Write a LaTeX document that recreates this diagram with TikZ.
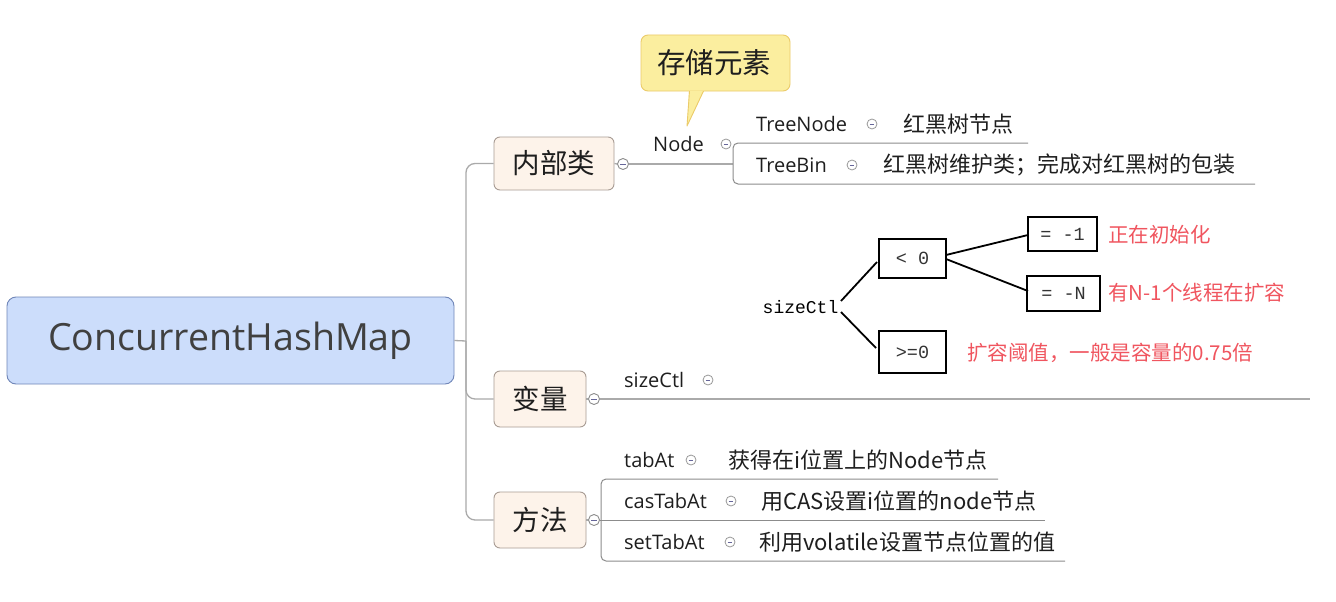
\documentclass[tikz,border=0pt]{standalone}
\usepackage{fontspec}
\setmainfont{Open Sans}
\newfontfamily\cjk{Noto Sans CJK SC}
\setmonofont{Liberation Mono}
\definecolor{rootfill}{RGB}{204,221,251}
\definecolor{rootline}{RGB}{112,134,184}
\definecolor{subfill}{RGB}{253,243,234}
\definecolor{subline}{RGB}{168,156,148}
\definecolor{callfill}{RGB}{251,238,159}
\definecolor{callline}{RGB}{235,203,106}
\definecolor{brline}{RGB}{170,170,170}
\definecolor{bkline}{RGB}{140,140,140}
\definecolor{txt}{RGB}{30,30,30}
\definecolor{roottxt}{RGB}{64,64,64}
\definecolor{redtxt}{RGB}{240,85,95}
\tikzset{
  rootbox/.style={draw=rootline, fill=rootfill, rounded corners=9pt, line width=0.9pt,
    text=roottxt, font=\fontsize{37.5}{40}\selectfont, inner sep=0pt},
  subbox/.style={draw=subline, fill=subfill, rounded corners=6pt, line width=0.9pt,
    text=txt, font=\cjk\fontsize{27.5}{30}\selectfont, inner sep=0pt},
  branch/.style={draw=brline, line width=1.3pt},
  bracket/.style={draw=bkline, line width=1pt, rounded corners=5pt},
  coll/.style={circle, draw=gray!90, fill=white, line width=0.9pt, minimum size=11pt, inner sep=0pt,
    path picture={\draw[gray!80!blue, line width=0.9pt] ([xshift=-2.6pt]path picture bounding box.center) -- ([xshift=2.6pt]path picture bounding box.center);}},
  mini/.style={circle, draw=gray!80, fill=white, line width=0.8pt, minimum size=10pt, inner sep=0pt,
    path picture={\draw[gray!80!blue, line width=0.8pt] ([xshift=-2.3pt]path picture bounding box.center) -- ([xshift=2.3pt]path picture bounding box.center);}},
  lbl/.style={anchor=west, inner sep=0pt, text=txt, font=\fontsize{20}{22}\selectfont},
  clbl/.style={anchor=west, inner sep=0pt, text=txt, font=\cjk\fontsize{22}{24}\selectfont},
  callout/.style={draw=callline, fill=callfill, line width=0.9pt, rounded corners=7pt},
  monobox/.style={draw=black, line width=1.8pt, inner sep=0pt, text=black!80, font=\ttfamily\fontsize{18.5}{20}\selectfont},
  monotxt/.style={inner sep=0pt, text=black, font=\ttfamily\fontsize{18}{20}\selectfont},
  redlbl/.style={anchor=west, inner sep=0pt, text=redtxt, font=\cjk\fontsize{20.5}{24}\selectfont},
  tline/.style={draw=black, line width=1.8pt}
}
\begin{document}
\begin{tikzpicture}[x=1pt,y=-1pt]
\useasboundingbox[fill=white] (0,0) rectangle (1336,602);

% root and subtopics
\node[rootbox, minimum width=447pt, minimum height=87pt] (root) at (230.5,340.5) {ConcurrentHashMap};
\node[subbox, minimum width=120pt, minimum height=53pt] (nb) at (554,163.5) {内部类};
\node[subbox, minimum width=92pt, minimum height=56pt] (bl) at (540,399) {变量};
\node[subbox, minimum width=92pt, minimum height=56pt] (ff) at (540,520) {方法};

\coordinate (tj) at (466,341);
\draw[branch] (root.east) -- (tj);
\draw[branch, rounded corners=9pt] (nb.west) -| (tj);
\draw[branch, rounded corners=9pt] (bl.west) -| (tj);
\draw[branch, rounded corners=9pt] (ff.west) -| (tj);

% collapse circles
\node[coll] (c1) at (623,164) {};
\node[coll] (c2) at (594,399) {};
\node[coll] (c3) at (594,520) {};
\draw[branch] (nb.east) -- (c1.west);
\draw[branch] (bl.east) -- (c2.west);
\draw[branch] (ff.east) -- (c3.west);

% inner class branch
\coordinate (nj) at (733,164);
\draw[branch] (c1.east) -- (nj);
\node[lbl] (node) at (653,144) {Node};
\node[mini] (m0) at (726,144) {};
\coordinate (bt1) at (1028,143);
\coordinate (bt2) at (1255,184);
\draw[bracket] (bt1) -- (733,143) -- (733,184) -- (bt2);
\node[lbl] (tn) at (756,124) {TreeNode};
\node[mini] (m1) at (872,124) {};
\node[clbl] (tnd) at (903,124) {红黑树节点};
\node[lbl] (tb) at (756,165) {TreeBin};
\node[mini] (m2) at (852,165) {};
\node[clbl] (tbd) at (883,165) {红黑树维护类；完成对红黑树的包装};

% callout
\draw[callout] (641,35) rectangle (790,91);
\fill[callfill] (689,90.5) -- (704,90.5) -- (687,126) -- cycle;
\draw[callline, line width=0.9pt, line join=round] (689.5,91) -- (687,126) -- (703.5,91);
\node[inner sep=0pt, text=txt, font=\cjk\fontsize{28.5}{30}\selectfont] (cl) at (714,63) {存储元素};

% variable branch
\coordinate (vend) at (1310,399);
\draw[branch] (c2.east) -- (vend);
\node[lbl] (sc) at (624,380) {sizeCtl};
\node[mini] (m3) at (708,380) {};

% sizeCtl inset
\node[monotxt] (sz) at (800.5,307) {sizeCtl};
\node[monobox, minimum width=67pt, minimum height=39pt] (lt) at (912.5,258.5) {< 0};
\node[monobox, minimum width=67pt, minimum height=42pt] (ge) at (912.5,352) {>=0};
\node[monobox, minimum width=69pt, minimum height=34pt] (m1b) at (1062.5,234) {= -1};
\node[monobox, minimum width=73pt, minimum height=35pt] (mnb) at (1063.5,293.5) {= -N};
\draw[tline] (841,301) -- (877,262);
\draw[tline] (841,312) -- (876,348);
\draw[tline] (946,255) -- (1028,235);
\draw[tline] (946,259) -- (1028,291);
\node[redlbl] (r1) at (1108,235) {正在初始化};
\node[redlbl] (r2) at (1108,293) {有N-1个线程在扩容};
\node[redlbl] (r3) at (967,353) {扩容阈值，一般是容量的0.75倍};

% methods branch
\coordinate (mt1) at (998,479);
\coordinate (mt2) at (1045,520);
\coordinate (mt3) at (1065,561);
\draw[bracket] (mt1) -- (601,479) -- (601,561) -- (mt3);
\draw[bkline, line width=1pt] (c3.east) -- (mt2);
\node[lbl] (ta) at (624,460) {tabAt};
\node[mini] (m4) at (691,460) {};
\node[clbl] (tad) at (728,460) {获得在i位置上的Node节点};
\node[lbl] (ca) at (624,501) {casTabAt};
\node[mini] (m5) at (731,501) {};
\node[clbl] (cad) at (761,501) {用CAS设置i位置的node节点};
\node[lbl] (sa) at (624,542) {setTabAt};
\node[mini] (m6) at (730,542) {};
\node[clbl] (sad) at (759,542) {利用volatile设置节点位置的值};
\end{tikzpicture}
\end{document}
